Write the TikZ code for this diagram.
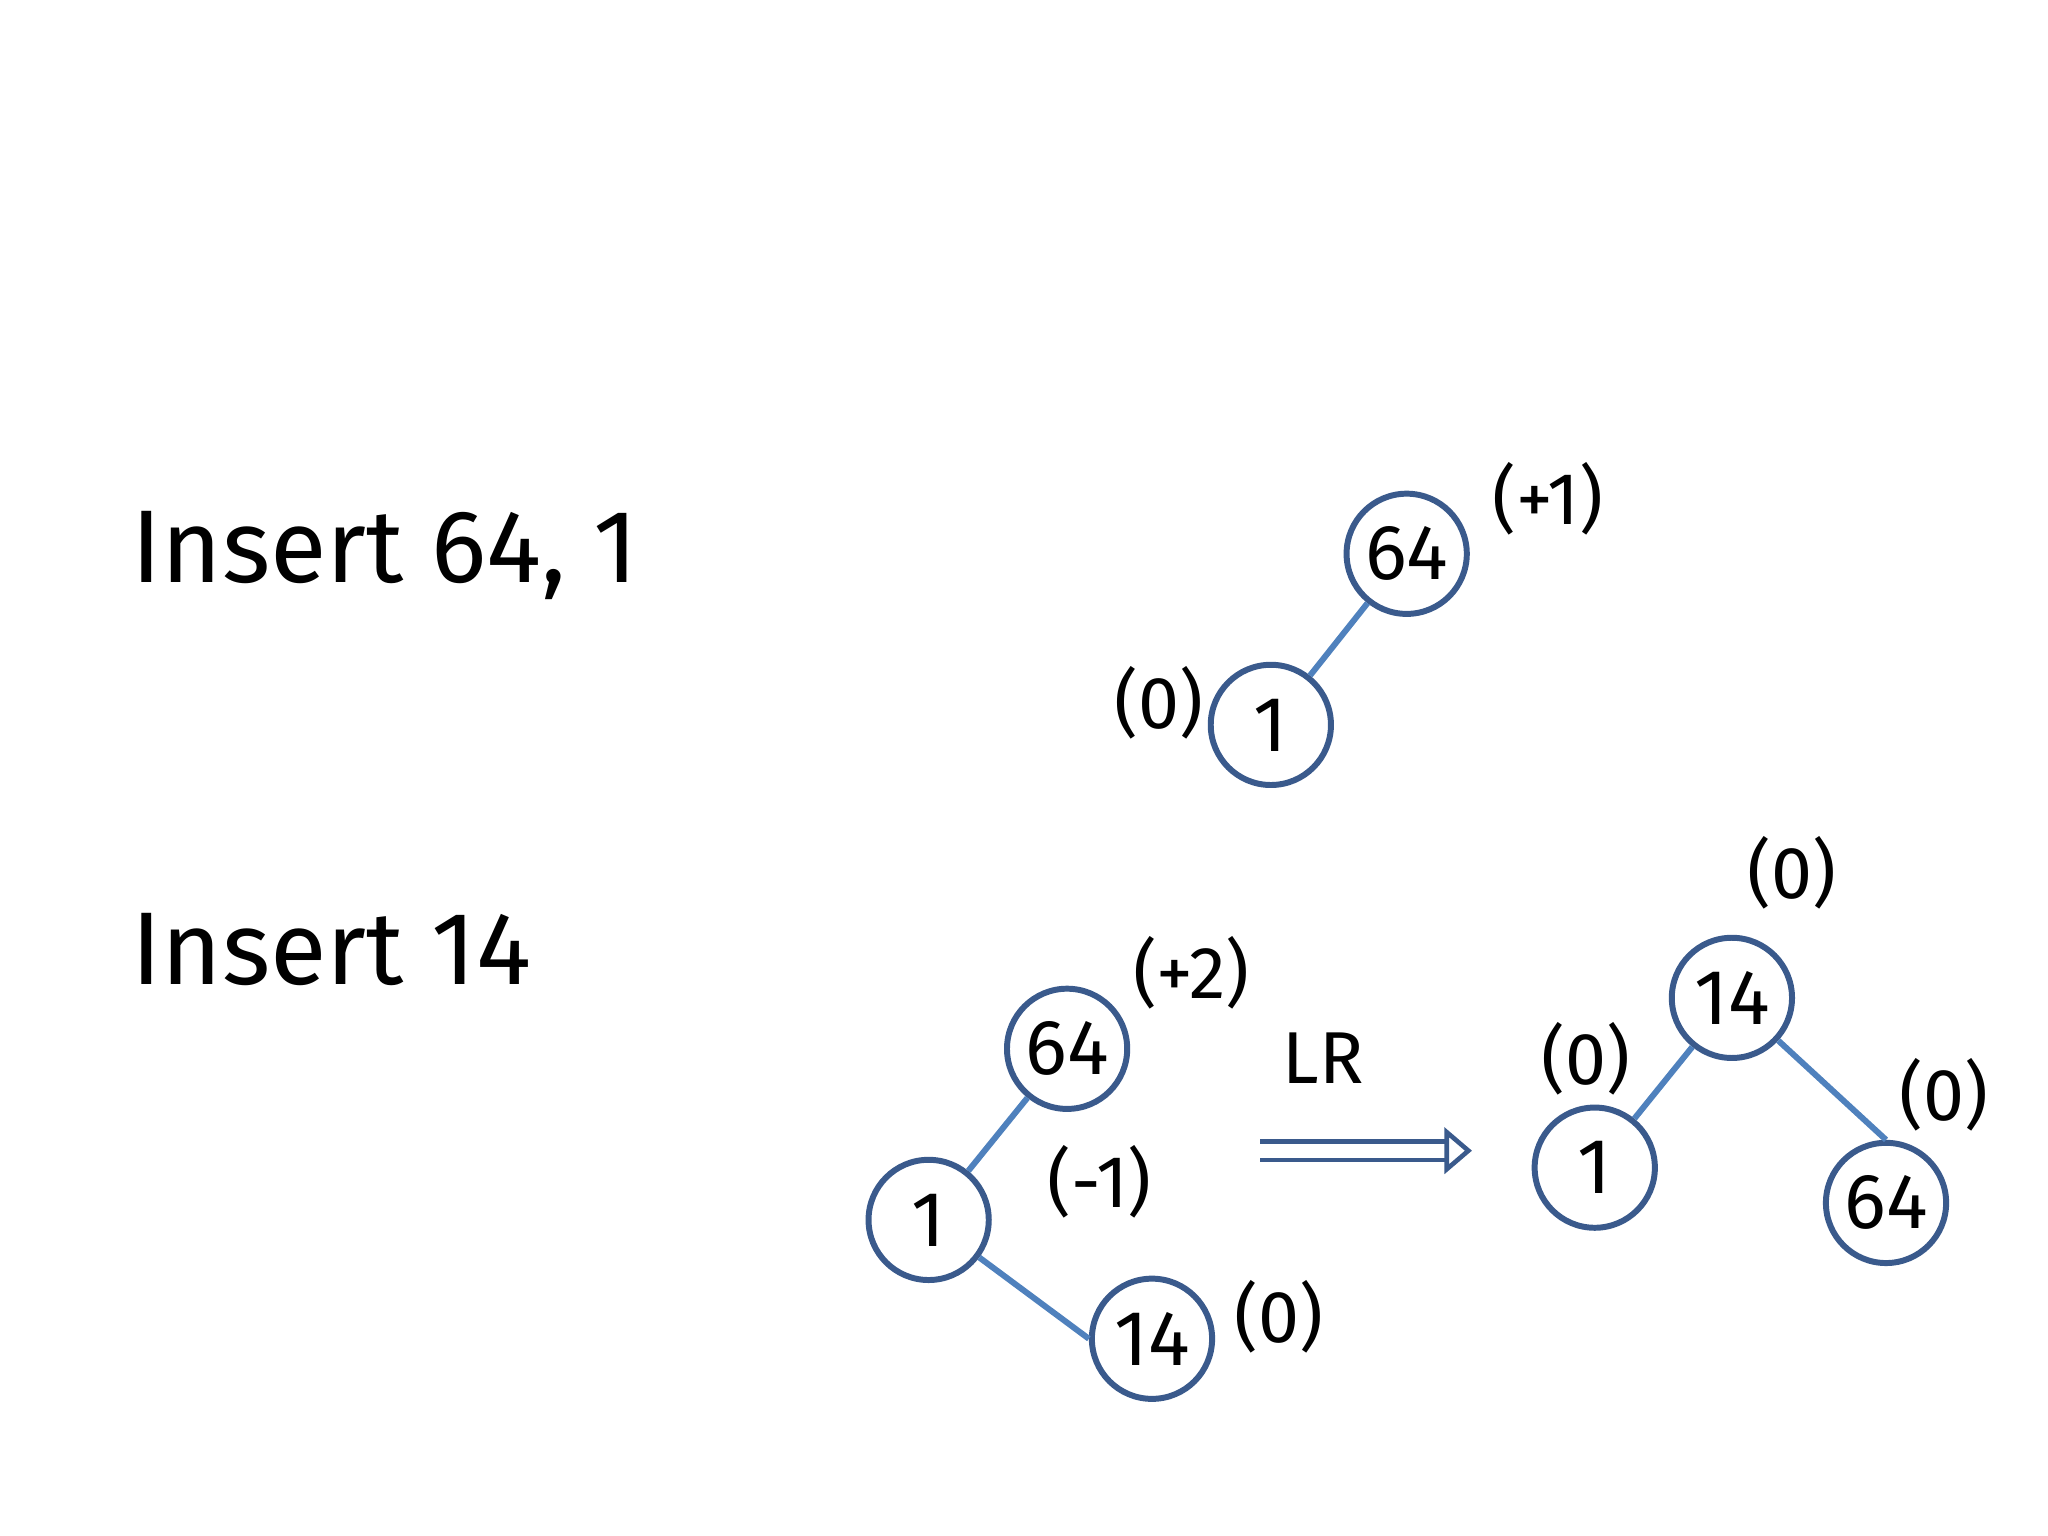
\documentclass[tikz,border=0pt]{standalone}
\usepackage{fontspec}
\setmainfont{Fira Sans}
\usetikzlibrary{arrows.meta}
\definecolor{circ}{RGB}{58,90,140}
\definecolor{edg}{RGB}{79,129,189}
\begin{document}
\begin{tikzpicture}[x=0.01cm,y=-0.01cm,
  nd/.style={circle,draw=circ,line width=1.3pt,minimum size=0.92cm,inner sep=0pt,font=\fontsize{17}{17}\selectfont},
  lbl/.style={font=\fontsize{16}{16}\selectfont},
  ttl/.style={font=\fontsize{22.5}{22.5}\selectfont,anchor=west},
  ed/.style={draw=edg,line width=1.3pt}]
\useasboundingbox (0,0) rectangle (1568,1176);
\node[ttl] (t1) at (88,425) {Insert 64, 1};
\node[ttl] (t2) at (88,727) {Insert 14};
% tree 1
\node[nd] (a64) at (1077,424) {64};
\node[nd] (a1) at (973,555) {1};
\draw[ed] (a64) -- (a1);
\node[lbl] (la) at (1185,382) {(+1)};
\node[lbl] (lb) at (887,538) {(0)};
% tree 2
\node[nd] (b64) at (817,803) {64};
\node[nd] (b1) at (711,934) {1};
\node[nd] (b14) at (882,1025) {14};
\draw[ed] (b64) -- (b1);
\draw[ed] (b1) -- (b14.west);
\node[lbl] (lc) at (912,745) {(+2)};
\node[lbl] (ld) at (842,905) {(-1)};
\node[lbl] (le) at (979,1008) {(0)};
\node[lbl] (lr) at (1013,810) {LR};
\coordinate (p1) at (965,881);
\coordinate (p2) at (1127,881);
\draw[double,double distance=3pt,draw=circ,line width=1pt,-{Triangle[open,length=6pt,width=10pt]}] (p1) -- (p2);
% tree 3
\node[nd] (c14) at (1326,764) {14};
\node[nd] (c1) at (1221,894) {1};
\node[nd] (c64) at (1444,921) {64};
\draw[ed] (c14) -- (c1);
\draw[ed] (c14) -- (c64.north);
\node[lbl] (lf) at (1372,668) {(0)};
\node[lbl] (lg) at (1214,811) {(0)};
\node[lbl] (lh) at (1488,838) {(0)};
\end{tikzpicture}
\end{document}
